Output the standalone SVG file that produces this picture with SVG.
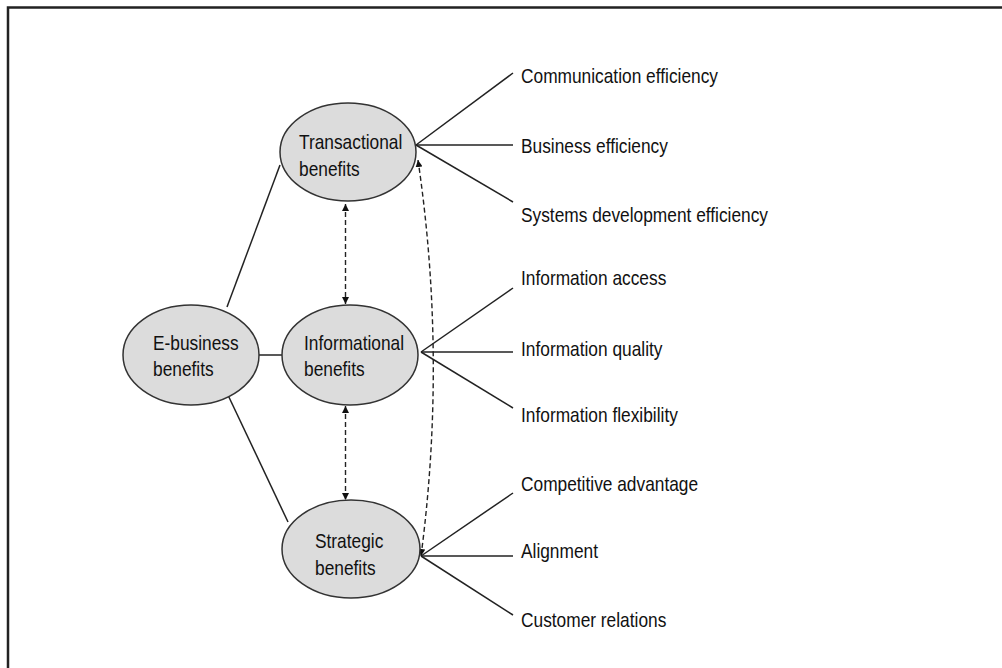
<svg xmlns="http://www.w3.org/2000/svg" width="1002" height="668" viewBox="0 0 1002 668">
<defs>
<style>
.node ellipse{fill:#dcdcdc;stroke:#333;stroke-width:1.5}
text{font-family:"Liberation Sans",Arial,sans-serif;font-size:20.5px;fill:#111}
.ln{stroke:#222;stroke-width:1.5;fill:none}
.da{stroke:#222;stroke-width:1.4;fill:none;stroke-dasharray:5 3;marker-start:url(#ah);marker-end:url(#ah)}
</style>
<marker id="ah" viewBox="0 0 10 10" refX="10" refY="5" markerWidth="7" markerHeight="7" markerUnits="userSpaceOnUse" orient="auto-start-reverse">
<path d="M0,0 L10,5 L0,10 z" fill="#111"/>
</marker>
</defs>
<rect width="1002" height="668" fill="#fff"/>
<path d="M8,668 V7.5 H1002" fill="none" stroke="#222" stroke-width="2.5"/>
<g id="connectors">
<line class="ln" x1="227" y1="307" x2="280" y2="165"/>
<line class="ln" x1="259" y1="355" x2="282" y2="355"/>
<line class="ln" x1="227" y1="393" x2="288" y2="522"/>
<line class="ln" x1="416" y1="145" x2="513" y2="73"/>
<line class="ln" x1="416" y1="145" x2="513" y2="145"/>
<line class="ln" x1="416" y1="145" x2="513" y2="202"/>
<line class="ln" x1="421" y1="352" x2="513" y2="288"/>
<line class="ln" x1="421" y1="352" x2="513" y2="352"/>
<line class="ln" x1="421" y1="352" x2="513" y2="408"/>
<line class="ln" x1="421" y1="556" x2="513" y2="493"/>
<line class="ln" x1="421" y1="556" x2="513" y2="556"/>
<line class="ln" x1="421" y1="556" x2="513" y2="615"/>
<line class="da" x1="345.5" y1="204" x2="345.5" y2="304"/>
<line class="da" x1="345.5" y1="406" x2="345.5" y2="500"/>
<path class="da" d="M418,160 Q447,358 421,556"/>
</g>
<g id="ebusiness" class="node"><ellipse cx="191" cy="355" rx="68" ry="50"/><text transform="translate(153,350) scale(0.845,1)">E-business</text><text transform="translate(153,376) scale(0.845,1)">benefits</text></g>
<g id="transactional" class="node"><ellipse cx="348" cy="152" rx="68" ry="49"/><text transform="translate(299,149) scale(0.845,1)">Transactional</text><text transform="translate(299,176) scale(0.845,1)">benefits</text></g>
<g id="informational" class="node"><ellipse cx="350" cy="355" rx="68" ry="50"/><text transform="translate(304,350) scale(0.845,1)">Informational</text><text transform="translate(304,376) scale(0.845,1)">benefits</text></g>
<g id="strategic" class="node"><ellipse cx="351" cy="549" rx="69" ry="49"/><text transform="translate(315,548) scale(0.845,1)">Strategic</text><text transform="translate(315,575) scale(0.845,1)">benefits</text></g>
<g id="labels">
<text transform="translate(521,83) scale(0.845,1)">Communication efficiency</text>
<text transform="translate(521,153) scale(0.845,1)">Business efficiency</text>
<text transform="translate(521,222) scale(0.845,1)">Systems development efficiency</text>
<text transform="translate(521,285) scale(0.845,1)">Information access</text>
<text transform="translate(521,356) scale(0.845,1)">Information quality</text>
<text transform="translate(521,422) scale(0.845,1)">Information flexibility</text>
<text transform="translate(521,491) scale(0.845,1)">Competitive advantage</text>
<text transform="translate(521,558) scale(0.845,1)">Alignment</text>
<text transform="translate(521,627) scale(0.845,1)">Customer relations</text>
</g>
</svg>
